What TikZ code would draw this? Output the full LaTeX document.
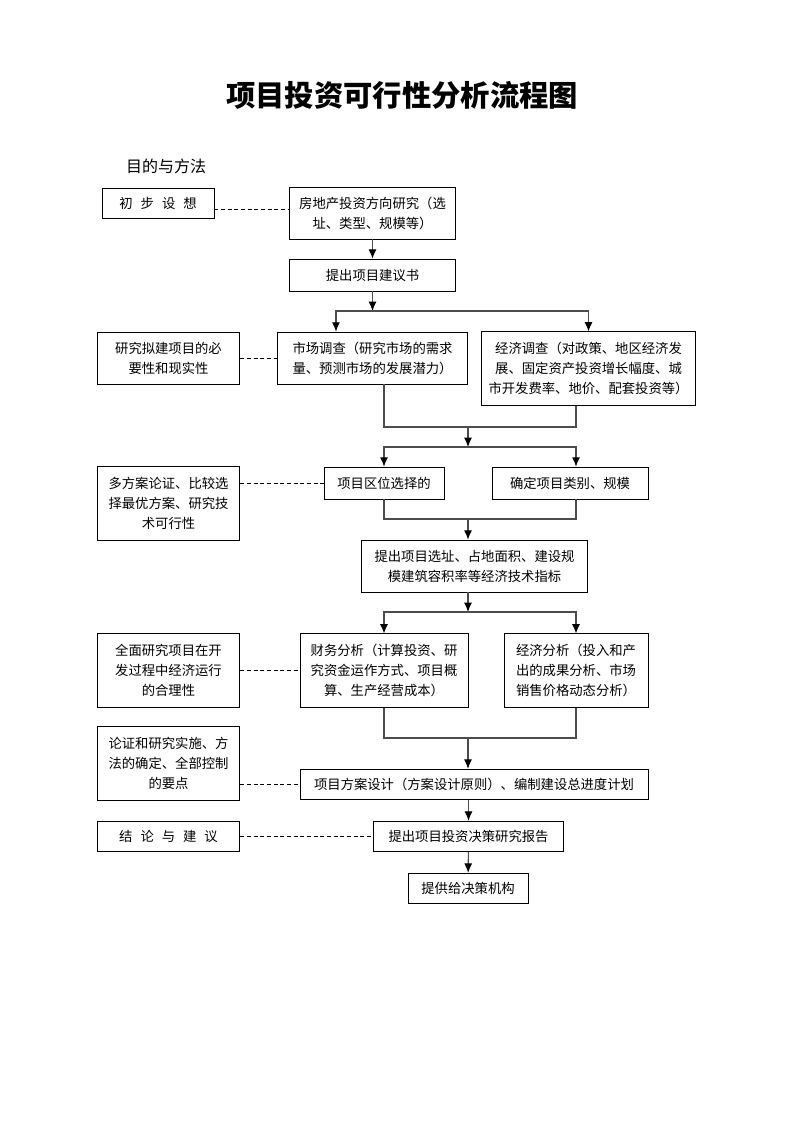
\documentclass[tikz,border=0pt]{standalone}
\usepackage{fontspec}
\setmainfont{Noto Sans CJK SC}
\usepackage{xcolor}
\usetikzlibrary{shapes,arrows.meta,positioning,calc}

\begin{document}
\begin{tikzpicture}[
    x=0.75pt, y=-0.75pt,
    font=\fontsize{10}{15}\selectfont,
    box/.style={rectangle, draw, line width=0.6pt, align=center, inner xsep=2pt, inner ysep=0pt},
    arrow/.style={-{Latex[length=7pt,width=6pt,color=black]}, line width=0.8pt, black!70},
    link/.style={line width=0.8pt, black!70},
    note/.style={dash pattern=on 3pt off 2pt, line width=0.6pt}
]
\useasboundingbox (0,0) rectangle (793,1122);

\node[font=\fontsize{22}{26}\selectfont\bfseries] (title) at (402,95) {项目投资可行性分析流程图};
\node[font=\fontsize{12}{15}\selectfont] (head) at (166,166) {目的与方法};

% main column
\node[box, minimum width=125pt, minimum height=39pt] (fangxiang) at (372.5,213) {房地产投资方向研究（选\\址、类型、规模等）};
\node[box, minimum width=125pt, minimum height=24pt] (jianyi) at (372.5,275) {提出项目建议书};
\node[box, minimum width=143pt, minimum height=39pt] (shichang) at (372.5,358) {市场调查（研究市场的需求\\量、预测市场的发展潜力）};
\node[box, minimum width=161pt, minimum height=55pt] (jingji) at (588.5,368.5) {经济调查（对政策、地区经济发\\展、固定资产投资增长幅度、城\\市开发费率、地价、配套投资等）};
\node[box, minimum width=90pt, minimum height=24pt] (quwei) at (384,483) {项目区位选择的};
\node[box, minimum width=117pt, minimum height=24pt] (leibie) at (570,483) {确定项目类别、规模};
\node[box, minimum width=170pt, minimum height=39pt] (zhibiao) at (474.5,566) {提出项目选址、占地面积、建设规\\模建筑容积率等经济技术指标};
\node[box, minimum width=126pt, minimum height=55pt] (caiwu) at (384,670.5) {财务分析（计算投资、研\\究资金运作方式、项目概\\算、生产经营成本）};
\node[box, minimum width=108pt, minimum height=55pt] (jjfx) at (576,670.5) {经济分析（投入和产\\出的成果分析、市场\\销售价格动态分析）};
\node[box, minimum width=261pt, minimum height=23pt] (sheji) at (474,784.5) {项目方案设计（方案设计原则）、编制建设总进度计划};
\node[box, minimum width=143pt, minimum height=23pt] (baogao) at (468.5,836.5) {提出项目投资决策研究报告};
\node[box, minimum width=90pt, minimum height=23pt] (jigou) at (468,888.5) {提供给决策机构};

% left column
\node[box, minimum width=84pt, minimum height=22.5pt] (chubu) at (158,203) {初\hspace{.6em}步\hspace{.6em}设\hspace{.6em}想};
\node[box, minimum width=107pt, minimum height=39pt] (biyao) at (168.5,358) {研究拟建项目的必\\要性和现实性};
\node[box, minimum width=107pt, minimum height=55pt] (fangan) at (168.5,503.5) {多方案论证、比较选\\择最优方案、研究技\\术可行性};
\node[box, minimum width=107pt, minimum height=55pt] (heli) at (168.5,670.5) {全面研究项目在开\\发过程中经济运行\\的合理性};
\node[box, minimum width=107pt, minimum height=55pt] (yaodian) at (168.5,763.5) {论证和研究实施、方\\法的确定、全部控制\\的要点};
\node[box, minimum width=107pt, minimum height=23pt] (jielun) at (168.5,836.5) {结\hspace{.6em}论\hspace{.6em}与\hspace{.6em}建\hspace{.6em}议};

% junctions
\coordinate (s1) at (372.5,311);
\coordinate (m1) at (468,427);
\coordinate (s2) at (468,447);
\coordinate (m2) at (468,519);
\coordinate (s3) at (468,612);
\coordinate (m3) at (468,738);

% flow
\draw[arrow] (fangxiang) -- (jianyi);
\draw[arrow] (jianyi) -- (s1);
\draw[arrow] (s1) -| ([xshift=-27.4pt]shichang.north);
\draw[arrow] (s1) -| (jingji.north);
\draw[link] ([xshift=8.6pt]shichang.south) |- (m1) -| ([xshift=-9.4pt]jingji.south);
\draw[arrow] (m1) -- (s2);
\draw[arrow] (s2) -| (quwei.north);
\draw[arrow] (s2) -| ([xshift=4.5pt]leibie.north);
\draw[link] (quwei.south) |- (m2) -| ([xshift=4.5pt]leibie.south);
\draw[arrow] (m2) -- (m2 |- zhibiao.north);
\draw[arrow] (s3 |- zhibiao.south) -- (s3);
\draw[arrow] (s3) -| (caiwu.north);
\draw[arrow] (s3) -| (jjfx.north);
\draw[link] (caiwu.south) |- (m3) -| (jjfx.south);
\draw[arrow] (m3) -- (m3 |- sheji.north);
\draw[arrow] (baogao.north |- sheji.south) -- (baogao.north);
\draw[arrow] (baogao) -- (jigou);

% notes
\draw[note] ([yshift=-4.5pt]chubu.east) -- ([yshift=-4.5pt]chubu.east -| fangxiang.west);
\draw[note] (biyao) -- (shichang);
\draw[note] (quwei.west -| fangan.east) -- (quwei.west);
\draw[note] (heli) -- (caiwu);
\draw[note] (sheji.west -| yaodian.east) -- (sheji.west);
\draw[note] (jielun) -- (baogao);

\end{tikzpicture}
\end{document}
